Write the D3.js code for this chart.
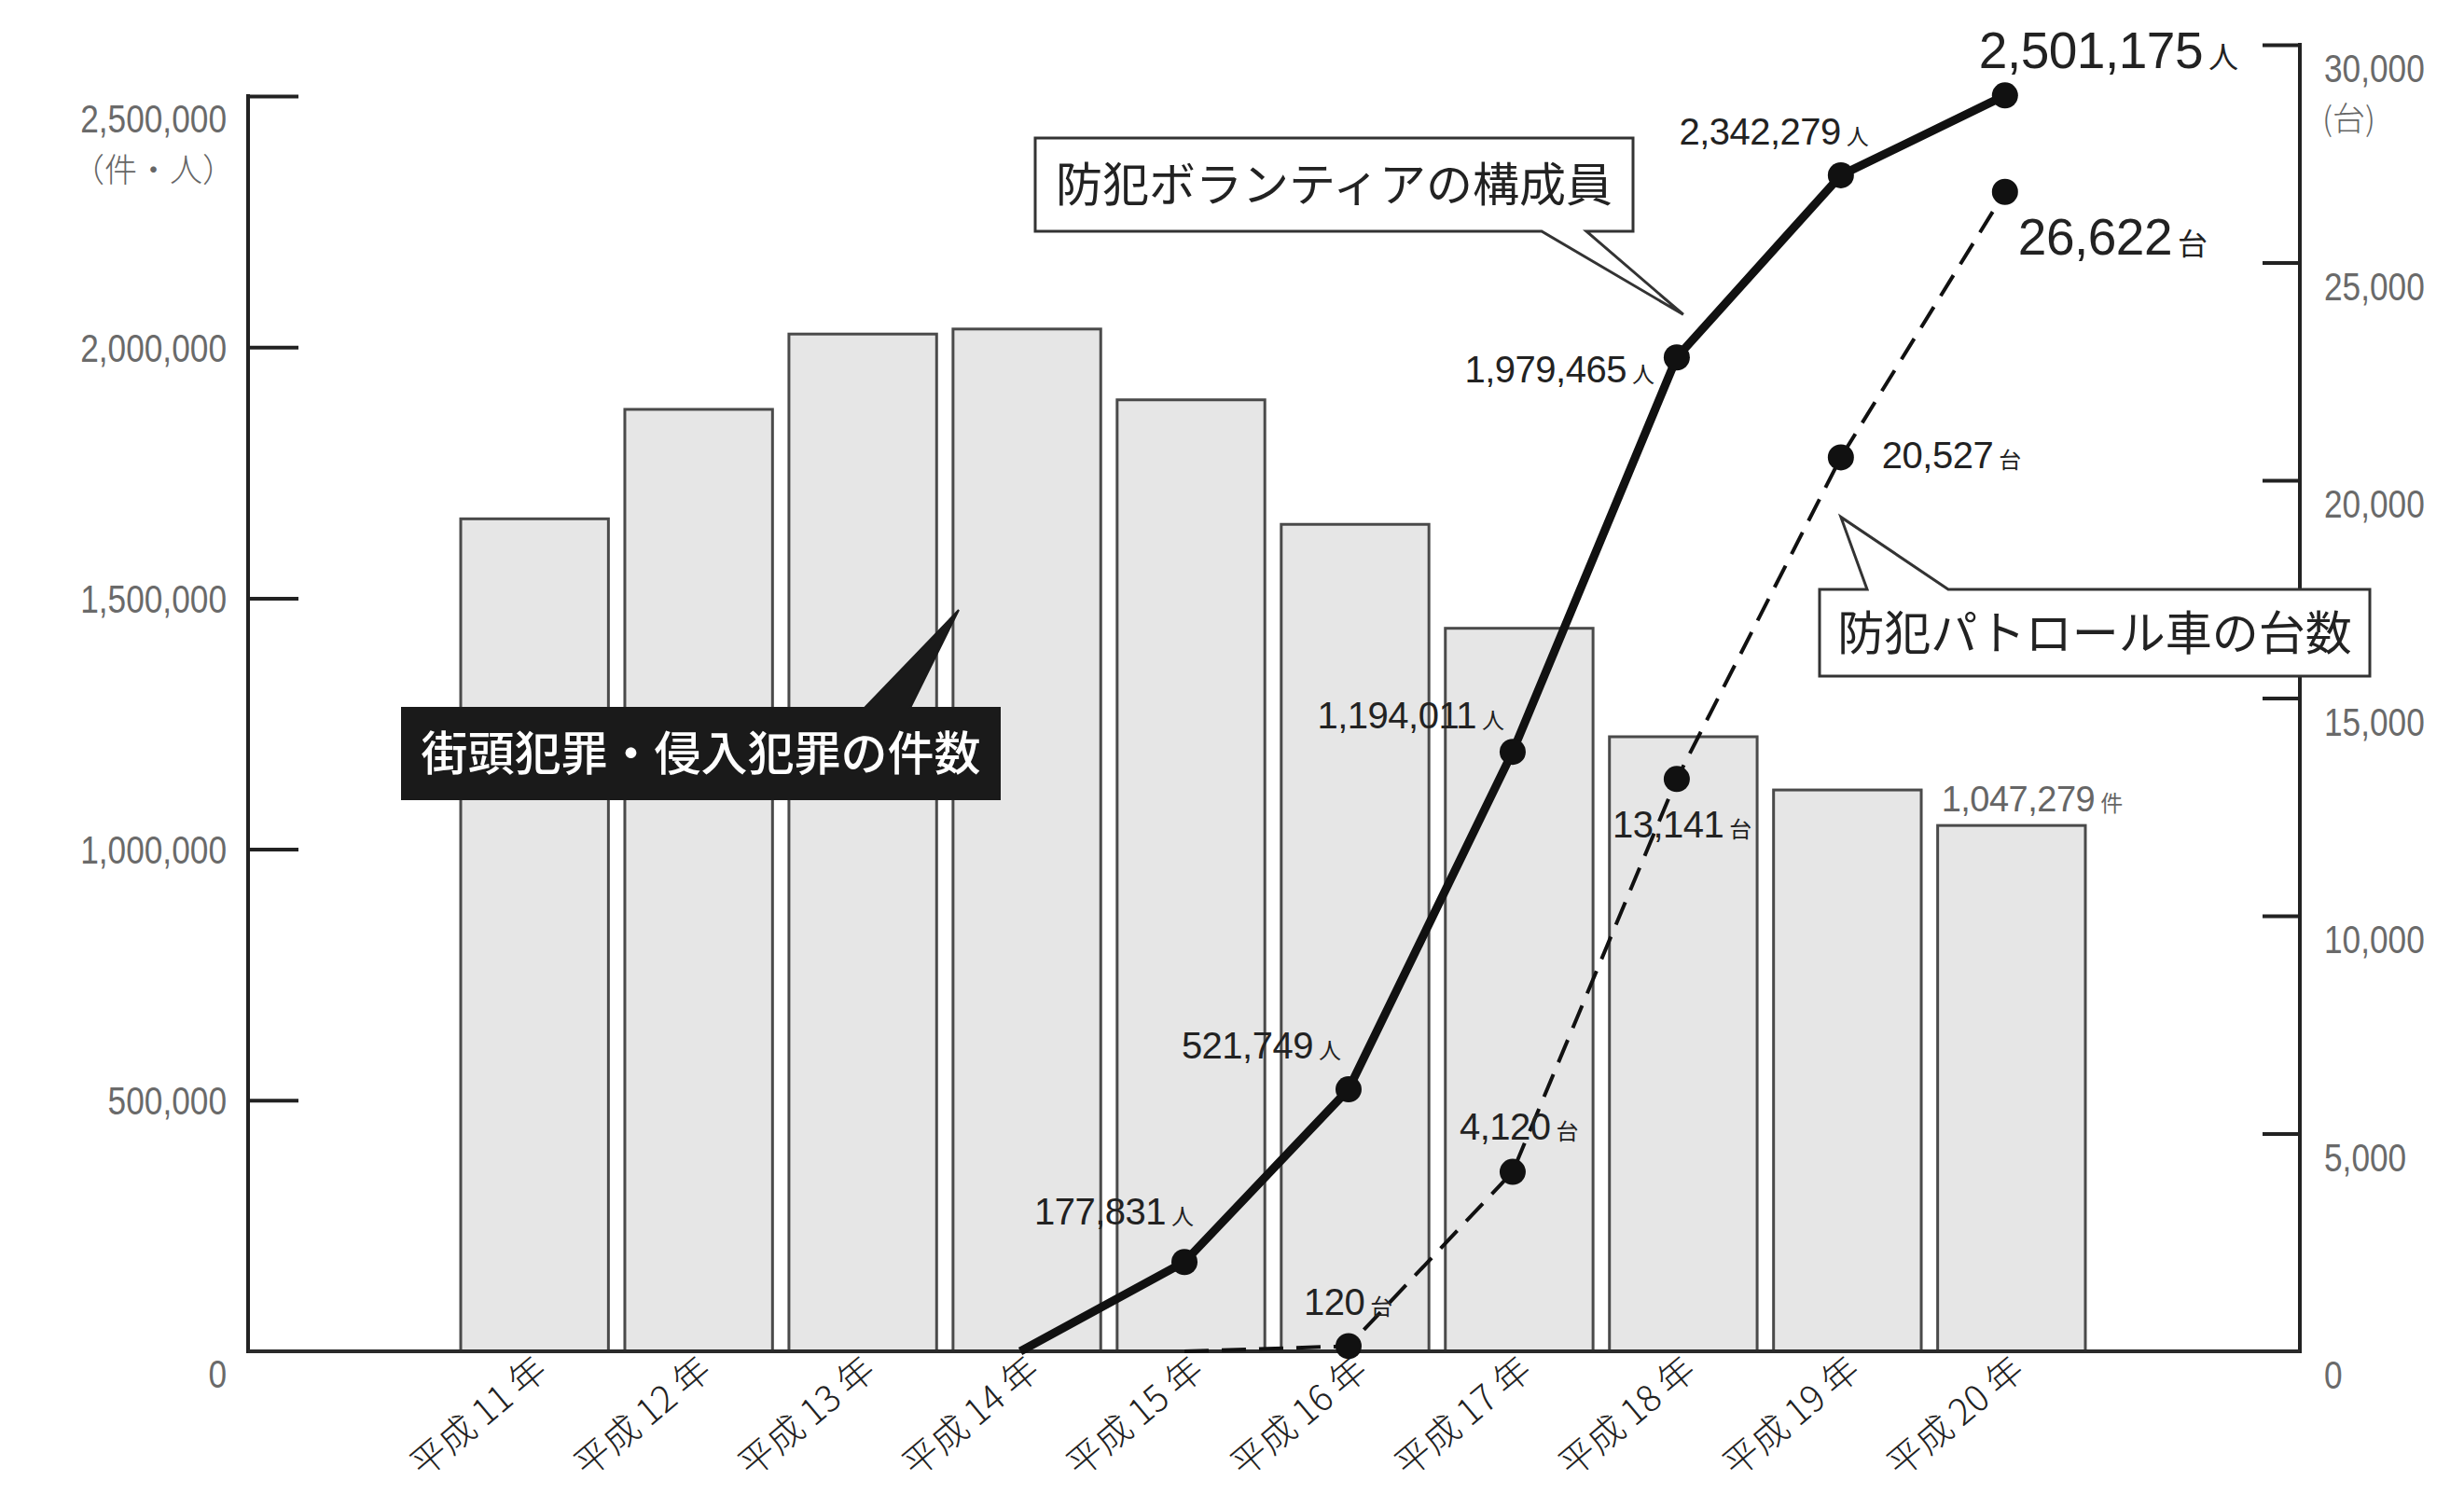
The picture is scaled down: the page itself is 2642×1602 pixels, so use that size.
<!DOCTYPE html>
<html>
<head>
<meta charset="utf-8">
<script src="https://cdn.jsdelivr.net/npm/d3@7"></script>
<style>
  html, body { margin: 0; padding: 0; background: #ffffff; }
  svg { display: block; }
</style>
</head>
<body>
<svg id="chart" width="2642" height="1602"></svg>
<script>
// ---------------- data ----------------
const categories = ["平成 11 年", "平成 12 年", "平成 13 年", "平成 14 年", "平成 15 年",
                    "平成 16 年", "平成 17 年", "平成 18 年", "平成 19 年", "平成 20 年"];
const crimeCounts = [1658000, 1876000, 2026000, 2036000, 1895000, 1647000, 1440000, 1224000, 1118000, 1047279];
const volunteers  = [null, null, null, 0, 177831, 521749, 1194011, 1979465, 2342279, 2501175];
const patrolCars  = [null, null, null, null, 0, 120, 4120, 13141, 20527, 26622];
const leftTicks  = [0, 500000, 1000000, 1500000, 2000000, 2500000];
const rightTicks = [0, 5000, 10000, 15000, 20000, 25000, 30000];
const leftUnit = "（件・人）";
const rightUnit = "(台)";
const volunteerTitle = "防犯ボランティアの構成員";
const patrolTitle = "防犯パトロール車の台数";
const crimeTitle = "街頭犯罪・侵入犯罪の件数";

// ---------------- layout ----------------
const svg = d3.select("#chart");
const axisLeftX = 266, axisRightX = 2466, baseY = 1449;
const x = d3.scaleBand().domain(categories).range([494, 2236]).paddingInner(0.1).paddingOuter(0);
const yL = d3.scaleLinear().domain([0, 2500000]).range([baseY, 103]);
const yR = d3.scaleLinear().domain([0, 30000]).range([baseY, 48]);
const fmt = d3.format(",");
const ptShift = -7;
const cx = c => x(c) + x.bandwidth() / 2 + ptShift;

const numFont = "'Liberation Sans', Arial, Helvetica, sans-serif";
const cjkFont = "'Noto Sans CJK JP', 'Noto Sans', sans-serif";
const axisFont = "'Liberation Sans', Arial, sans-serif";
const narrow = 0.82;

// ---------------- bars ----------------
svg.append("g").selectAll("rect").data(categories).join("rect")
  .attr("x", d => x(d))
  .attr("y", (d, i) => yL(crimeCounts[i]))
  .attr("width", x.bandwidth())
  .attr("height", (d, i) => baseY - yL(crimeCounts[i]))
  .attr("fill", "#e6e6e6")
  .attr("stroke", "#4a4a4a")
  .attr("stroke-width", 3);

// ---------------- axes ----------------
const leftAxis = d3.axisRight(yL).tickValues(leftTicks).tickSize(54).tickFormat("");
const gL = svg.append("g").attr("transform", `translate(${axisLeftX},0)`).call(leftAxis);
gL.select(".domain").remove();
gL.selectAll(".tick line").attr("stroke", "#222").attr("stroke-width", 4)
  .filter(d => d === 0).remove();
svg.append("line").attr("x1", axisLeftX).attr("x2", axisLeftX)
  .attr("y1", yL(2500000) - 2).attr("y2", baseY + 2)
  .attr("stroke", "#222").attr("stroke-width", 4);

const rightAxis = d3.axisLeft(yR).tickValues(rightTicks).tickSize(40).tickFormat("");
const gR = svg.append("g").attr("transform", `translate(${axisRightX},0)`).call(rightAxis);
gR.select(".domain").remove();
gR.selectAll(".tick line").attr("stroke", "#222").attr("stroke-width", 4)
  .filter(d => d === 0).remove();
svg.append("line").attr("x1", axisRightX).attr("x2", axisRightX)
  .attr("y1", yR(30000) - 2).attr("y2", baseY + 2)
  .attr("stroke", "#222").attr("stroke-width", 4);

// baseline
svg.append("line").attr("x1", axisLeftX).attr("x2", axisRightX)
  .attr("y1", baseY).attr("y2", baseY)
  .attr("stroke", "#2a2a2a").attr("stroke-width", 4);

// left tick labels (narrowed)
svg.append("g").selectAll("text").data(leftTicks).join("text")
  .attr("transform", d => `translate(243,${yL(d) + ((d === 0 || d === 2500000) ? 24 : 0)}) scale(${narrow},1)`)
  .attr("dy", "0.36em")
  .attr("text-anchor", "end")
  .attr("font-family", axisFont).attr("font-size", 43).attr("fill", "#6a6a6a")
  .text(d => fmt(d));
svg.append("text").attr("x", 252).attr("y", yL(2500000) + 79)
  .attr("dy", "0.36em").attr("text-anchor", "end")
  .attr("font-family", cjkFont).attr("font-size", 35).attr("font-weight", 300).attr("fill", "#666")
  .text(leftUnit);

// right tick labels (narrowed)
svg.append("g").selectAll("text").data(rightTicks).join("text")
  .attr("transform", d => `translate(2492,${yR(d) + 25}) scale(${narrow},1)`)
  .attr("dy", "0.36em")
  .attr("text-anchor", "start")
  .attr("font-family", axisFont).attr("font-size", 43).attr("fill", "#6a6a6a")
  .text(d => fmt(d));
svg.append("text").attr("x", 2490).attr("y", yR(30000) + 79)
  .attr("dy", "0.36em").attr("text-anchor", "start")
  .attr("font-family", cjkFont).attr("font-size", 35).attr("font-weight", 300).attr("fill", "#666")
  .text(rightUnit);

// x labels
svg.append("g").selectAll("text").data(categories).join("text")
  .attr("transform", d => `translate(${x(d) + x.bandwidth() / 2 + 16},${baseY + 24}) rotate(-40)`)
  .attr("text-anchor", "end")
  .attr("font-family", cjkFont).attr("font-size", 39).attr("font-weight", 300).attr("fill", "#222")
  .text(d => d);

// ---------------- lines ----------------
const volData = categories.map((c, i) => ({ c, v: volunteers[i] }));
const patData = categories.map((c, i) => ({ c, v: patrolCars[i] }));

svg.append("path").datum(patData)
  .attr("d", d3.line().defined(d => d.v !== null).x(d => cx(d.c)).y(d => yR(d.v)))
  .attr("fill", "none").attr("stroke", "#111").attr("stroke-width", 4)
  .attr("stroke-dasharray", "26,14");

svg.append("path").datum(volData)
  .attr("d", d3.line().defined(d => d.v !== null).x(d => cx(d.c)).y(d => yL(d.v)))
  .attr("fill", "none").attr("stroke", "#111").attr("stroke-width", 9)
  .attr("stroke-linejoin", "round");

svg.append("g").selectAll("circle").data(patData.filter(d => d.v)).join("circle")
  .attr("cx", d => cx(d.c)).attr("cy", d => yR(d.v)).attr("r", 14).attr("fill", "#111");
svg.append("g").selectAll("circle").data(volData.filter(d => d.v)).join("circle")
  .attr("cx", d => cx(d.c)).attr("cy", d => yL(d.v)).attr("r", 14).attr("fill", "#111");

// ---------------- value labels ----------------
// offsets relative to the data point (layout only)
const volLabelPos = { "平成 15 年": [10, -40, "end"], "平成 16 年": [-8, -33, "end"],
  "平成 17 年": [-9, -25, "end"], "平成 18 年": [-24, 27, "end"], "平成 19 年": [30, -33, "end"] };
const patLabelPos = { "平成 16 年": [-48, -33, "start"], "平成 17 年": [-57, -35, "start"],
  "平成 18 年": [-69, 63, "start"], "平成 19 年": [44, 12, "start"] };

function valueLabel(px, py, anchor, num, suffix, size, sufSize, color) {
  const t = svg.append("text").attr("x", px).attr("y", py).attr("text-anchor", anchor)
    .attr("fill", color || "#222");
  t.append("tspan").attr("font-family", numFont).attr("font-size", size)
    .attr("letter-spacing", -0.5).text(num);
  t.append("tspan").attr("font-family", cjkFont).attr("font-size", sufSize).attr("dx", 6).text(suffix);
  return t;
}

volData.forEach(d => {
  const p = volLabelPos[d.c];
  if (p) valueLabel(cx(d.c) + p[0], yL(d.v) + p[1], p[2], fmt(d.v), "人", 40, 24);
});
patData.forEach(d => {
  const p = patLabelPos[d.c];
  if (p) valueLabel(cx(d.c) + p[0], yR(d.v) + p[1], p[2], fmt(d.v), "台", 40, 24);
});
// final-year large labels
const last = categories[categories.length - 1];
valueLabel(cx(last) - 28, yL(volunteers[9]) - 29, "start", fmt(volunteers[9]), "人", 55, 32);
valueLabel(cx(last) + 14, yR(patrolCars[9]) + 67, "start", fmt(patrolCars[9]), "台", 55, 32);
// last bar label
valueLabel(x(last) + 4, yL(crimeCounts[9]) - 15, "start", fmt(crimeCounts[9]), "件", 38, 24, "#666");

// ---------------- callouts ----------------
// volunteer callout (pointer to 平成18年 point)
{
  const tipX = cx(categories[7]) + 7, tipY = yL(volunteers[7]) - 46;
  const L = 1110, R = 1751, T = 148, B = 248, b1 = 1653, b2 = 1701;
  svg.append("path")
    .attr("d", `M${L},${T}H${R}V${B}H${b2}L${tipX},${tipY}L${b1},${B}H${L}Z`)
    .attr("fill", "#fff").attr("stroke", "#333").attr("stroke-width", 3);
  svg.append("text").attr("x", (L + R) / 2).attr("y", (T + B) / 2).attr("dy", "0.36em")
    .attr("text-anchor", "middle").attr("font-family", cjkFont).attr("font-size", 50)
    .attr("fill", "#222").text(volunteerTitle);
}
// patrol callout (pointer to 平成19年 point)
{
  const tipX = cx(categories[8]), tipY = yR(patrolCars[8]) + 64;
  const L = 1951, R = 2541, T = 632, B = 725, b1 = 2002, b2 = 2089;
  svg.append("path")
    .attr("d", `M${L},${T}H${b1}L${tipX},${tipY}L${b2},${T}H${R}V${B}H${L}Z`)
    .attr("fill", "#fff").attr("stroke", "#333").attr("stroke-width", 3);
  svg.append("text").attr("x", (L + R) / 2).attr("y", (T + B) / 2).attr("dy", "0.36em")
    .attr("text-anchor", "middle").attr("font-family", cjkFont).attr("font-size", 50)
    .attr("fill", "#222").text(patrolTitle);
}
// crime callout (black)
{
  const L = 431, R = 1072, T = 759, B = 857, b1 = 927, b2 = 976, tipX = 1028, tipY = 654;
  svg.append("path")
    .attr("d", `M${L},${T}H${b1}L${tipX},${tipY}L${b2},${T}H${R}V${B}H${L}Z`)
    .attr("fill", "#1a1a1a").attr("stroke", "#1a1a1a").attr("stroke-width", 2);
  svg.append("text").attr("x", (L + R) / 2).attr("y", (T + B) / 2).attr("dy", "0.36em")
    .attr("text-anchor", "middle").attr("font-family", cjkFont).attr("font-size", 50)
    .attr("font-weight", 500).attr("fill", "#fff").text(crimeTitle);
}
</script>
</body>
</html>
